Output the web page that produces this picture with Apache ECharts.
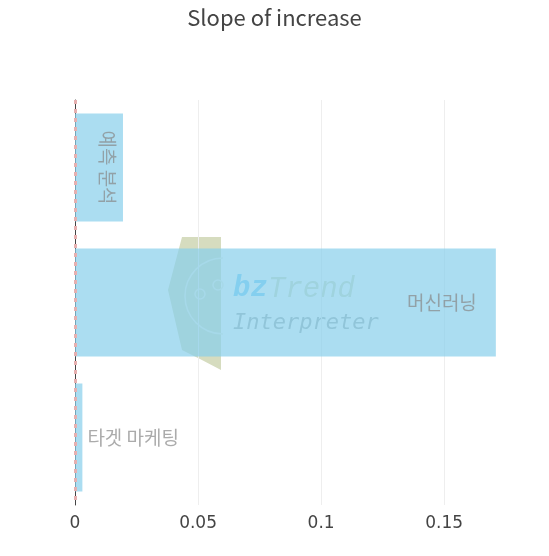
<!DOCTYPE html>
<html>
<head>
<meta charset="utf-8">
<script src="https://cdn.jsdelivr.net/npm/echarts@6/dist/echarts.min.js"></script>
<style>
  html, body { margin: 0; padding: 0; background: #fff; }
  #chart { width: 549px; height: 556px; }
</style>
</head>
<body>
<div id="chart"></div>
<script>
// Keywords and their slope of increase
const categories = ['예측 분석', '머신러닝', '타겟 마케팅'];
const slopes = [0.0195, 0.171, 0.003];
const xTicks = [0, 0.05, 0.1, 0.15];

const FONT = '"Noto Sans CJK KR", "Noto Sans", sans-serif';
const TICK_FONT = '"DejaVu Sans", sans-serif';

// Per-bar label placement: rotated inside, inside end, outside end
const labelStyles = [
  { position: 'insideRight', distance: 16, rotate: -90, align: 'center', verticalAlign: 'middle' },
  { position: 'insideRight', distance: 19 },
  { position: 'right', distance: 5 }
];

const chart = echarts.init(document.getElementById('chart'), null, { renderer: 'canvas' });

chart.setOption({
  backgroundColor: '#ffffff',
  animation: false,
  title: {
    text: 'Slope of increase',
    left: 'center',
    top: 2,
    textStyle: { fontFamily: FONT, fontSize: 22, fontWeight: 'normal', color: '#444' }
  },
  grid: { left: 75, right: 31, top: 100, bottom: 51, containLabel: false },
  xAxis: {
    type: 'value',
    min: 0,
    max: 0.18,
    interval: 0.05,
    axisLine: { show: false },
    axisTick: { show: false },
    axisLabel: {
      fontFamily: TICK_FONT, fontSize: 17, color: '#444', margin: 10,
      showMaxLabel: false,
      formatter: v => (xTicks.includes(v) ? String(v) : '')
    },
    splitLine: { show: true, showMinLine: false, showMaxLine: false, lineStyle: { color: '#eeeeee', width: 1 } }
  },
  yAxis: {
    type: 'category',
    data: categories,
    inverse: true,
    axisLine: { show: true, lineStyle: { color: '#444', width: 1 } },
    axisTick: { show: false },
    axisLabel: { show: false },
    splitLine: { show: false }
  },
  graphic: [
    // faint logo mark behind the bars
    {
      type: 'group', z: -10, silent: true,
      children: [
        { type: 'polygon', shape: { points: [[182, 237], [221, 237], [221, 370], [200, 359], [182, 350], [168, 290]] },
          style: { fill: '#d6dcbf' } },
        { type: 'arc', shape: { cx: 223, cy: 296, r: 38, startAngle: Math.PI * 0.5, endAngle: Math.PI * 1.5 },
          style: { stroke: '#eef0e4', lineWidth: 1.5, fill: null } },
        { type: 'circle', shape: { cx: 200, cy: 294, r: 5 }, style: { stroke: '#eef0e4', lineWidth: 1.5, fill: null } },
        { type: 'circle', shape: { cx: 218, cy: 285, r: 5 }, style: { stroke: '#eef0e4', lineWidth: 1.5, fill: null } },
        { type: 'text', x: 233, y: 289,
          style: { text: 'bz', fill: '#7ccff8', font: 'italic bold 29px "Liberation Mono", monospace', verticalAlign: 'middle' } },
        { type: 'text', x: 268, y: 289,
          style: { text: 'Trend', fill: '#d6dcbf', font: 'italic 29px "Liberation Mono", monospace', verticalAlign: 'middle' } },
        { type: 'text', x: 233, y: 323,
          style: { text: 'Interpreter', fill: '#a8b0b0', font: 'oblique 22px "DejaVu Sans Mono", monospace', verticalAlign: 'middle' } }
      ]
    }
  ],
  series: [
    {
      type: 'bar',
      barCategoryGap: '20%',
      itemStyle: { color: '#87ceeb', opacity: 0.7 },
      data: slopes.map((v, i) => ({
        value: v,
        label: Object.assign({
          show: true,
          formatter: categories[i],
          fontFamily: FONT,
          fontSize: 19,
          color: '#888'
        }, labelStyles[i])
      })),
      markLine: {
        silent: true,
        symbol: 'none',
        label: { show: false },
        lineStyle: { color: '#e6b0b0', type: [4, 5], width: 3, opacity: 1 },
        data: [{ xAxis: 0 }]
      }
    }
  ]
});
</script>
</body>
</html>
